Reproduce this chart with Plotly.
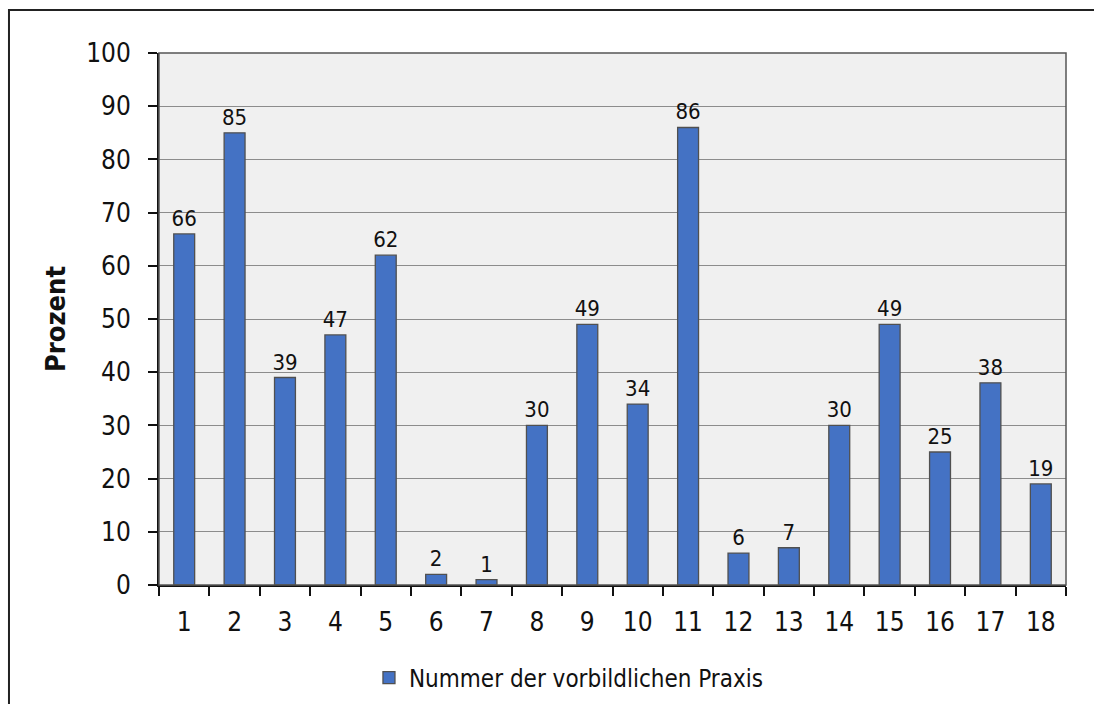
import plotly.graph_objects as go

# Share (%) per model-practice number
practice_numbers = [str(i) for i in range(1, 19)]
percent_values = [66, 85, 39, 47, 62, 2, 1, 30, 49, 34, 86, 6, 7, 30, 49, 25, 38, 19]
y_ticks = list(range(0, 101, 10))
series_name = "Nummer der vorbildlichen Praxis"
y_title = "Prozent"

FONT = "Liberation Sans Narrow, Arial Narrow, DejaVu Sans Condensed, sans-serif"

fig = go.Figure()
fig.add_trace(go.Bar(
    x=practice_numbers,
    y=percent_values,
    name=series_name,
    marker=dict(color="#4472C4", line=dict(color="#505050", width=1.3)),
    text=[str(v) for v in percent_values],
    textposition="outside",
    constraintext="none",
    textfont=dict(family=FONT, size=22, color="#111111"),
    cliponaxis=False,
    showlegend=True,
))

fig.update_layout(
    width=1094,
    height=704,
    margin=dict(l=159, r=28, t=53, b=119, autoexpand=False),
    paper_bgcolor="white",
    plot_bgcolor="#F0F0F0",
    font=dict(family=FONT, size=26, color="#111111"),
    bargap=0.585,
    showlegend=True,
    legend=dict(
        orientation="h",
        x=0.452, xanchor="center",
        yref="container", y=0.037, yanchor="middle",
        font=dict(family=FONT, size=24, color="#111111"),
        itemwidth=30,
        bgcolor="rgba(0,0,0,0)",
    ),
    xaxis=dict(
        type="category",
        automargin=False,
        showline=True, linecolor="#111111", linewidth=2,
        ticks="outside", ticklen=9, tickwidth=1.5, tickcolor="#111111",
        tickson="boundaries",
        tickfont=dict(family=FONT, size=26),
        ticklabelstandoff=13,
        showgrid=False,
    ),
    yaxis=dict(
        range=[0, 100],
        automargin=False,
        tickvals=y_ticks,
        showline=True, linecolor="#111111", linewidth=2,
        ticks="outside", ticklen=9, tickwidth=1.5, tickcolor="#111111",
        tickfont=dict(family=FONT, size=26),
        ticklabelstandoff=12,
        showgrid=True, gridcolor="#8C8C8C", gridwidth=1,
        zeroline=False,
        title=dict(text="<b>" + y_title + "</b>", font=dict(family=FONT, size=27), standoff=13),
    ),
    shapes=[
        # frame on top and right of the plotting area
        dict(type="rect", xref="paper", yref="paper", x0=0, x1=1, y0=0, y1=1,
             line=dict(color="#555555", width=1.5), layer="above"),
        # outer chart border
        dict(type="rect", xref="paper", yref="paper",
             x0=-0.1654, x1=1.2, y0=-0.4, y1=1.0808,
             line=dict(color="#222222", width=2), layer="above"),
    ],
)

fig.write_html("out.html")
